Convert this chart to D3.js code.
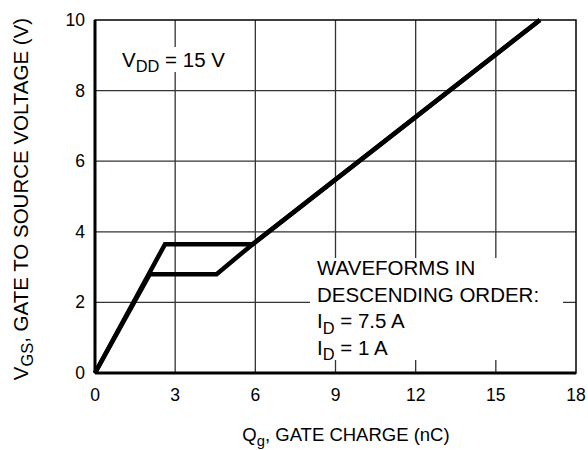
<!DOCTYPE html>
<html>
<head>
<meta charset="utf-8">
<script src="https://cdn.jsdelivr.net/npm/d3@7"></script>
<style>
  body { margin: 0; background: #fff; }
  text { font-family: "Liberation Sans", Arial, sans-serif; fill: #000; }
</style>
</head>
<body>
<svg id="svg0"></svg>
<script>
// gate charge curves (Qg nC, VGS V)
let curveHigh = [[0, 0], [2.62, 3.65], [5.9, 3.65], [16.65, 10]];   // ID = 7.5 A
let curveLow = [[0, 0], [2.05, 2.8], [4.55, 2.8], [5.9, 3.65], [16.65, 10]];  // ID = 1 A
let xTicks = [0, 3, 6, 9, 12, 15, 18];
let yTicks = [0, 2, 4, 6, 8, 10];
let legendLines = ['WAVEFORMS IN', 'DESCENDING ORDER:', 'I|D| = 7.5 A', 'I|D| = 1 A'];

let W = 588, H = 450;
let margin = {top: 20, right: 12, bottom: 77, left: 95};
let width = W - margin.left - margin.right;
let height = H - margin.top - margin.bottom;

let svg = d3.select('#svg0').attr('width', W).attr('height', H);
let g = svg.append('g').attr('transform', 'translate(' + margin.left + ', ' + margin.top + ')');

let xScale = d3.scaleLinear().domain([0, 18]).range([0, width]);
let yScale = d3.scaleLinear().domain([0, 10]).range([height, 0]);

// gridlines
g.append('g').selectAll('line').data(xTicks.slice(1, -1)).enter().append('line')
    .attr('x1', d=>xScale(d)).attr('x2', d=>xScale(d))
    .attr('y1', 0).attr('y2', height)
    .style('stroke', '#333').style('stroke-width', 1.3);
g.append('g').selectAll('line').data(yTicks.slice(1, -1)).enter().append('line')
    .attr('x1', 0).attr('x2', width)
    .attr('y1', d=>yScale(d)).attr('y2', d=>yScale(d))
    .style('stroke', '#333').style('stroke-width', 1.3);

// white boxes behind the notes
g.append('rect').attr('x', 24).attr('y', 27).attr('width', 112).attr('height', 25).style('fill', '#fff');
g.append('rect').attr('x', 215).attr('y', 238).attr('width', 253).attr('height', 102).style('fill', '#fff');

// frame
g.append('rect').attr('width', width).attr('height', height)
    .style('fill', 'none').style('stroke', '#000').style('stroke-width', 1.5);
g.append('line').attr('x1', 0).attr('x2', 0).attr('y1', 0).attr('y2', height)
    .style('stroke', '#000').style('stroke-width', 3);
g.append('line').attr('x1', 0).attr('x2', width).attr('y1', height).attr('y2', height)
    .style('stroke', '#000').style('stroke-width', 3);

// tick labels
g.selectAll('.xt').data(xTicks).enter().append('text')
    .attr('class', 'xt')
    .attr('x', d=>xScale(d)).attr('y', height + 28)
    .style('text-anchor', 'middle').style('font-size', '17.5px')
    .text(d=>d);
g.selectAll('.yt').data(yTicks).enter().append('text')
    .attr('class', 'yt')
    .attr('x', -10).attr('y', d=>yScale(d) + 6)
    .style('text-anchor', 'end').style('font-size', '17.5px')
    .text(d=>d);

// curves
let line = d3.line().x(d=>xScale(d[0])).y(d=>yScale(d[1]));
[curveLow, curveHigh].forEach(c=>{
    g.append('path').datum(c)
        .attr('d', line)
        .style('fill', 'none').style('stroke', '#000').style('stroke-width', 4.5)
        .style('stroke-linejoin', 'miter');
});

// helper for text with subscript, parts split by |
function subText(sel, str, size){
    let parts = str.split('|');
    parts.forEach((p, i)=>{
        if (!p) return;
        let t = sel.append('tspan').text(p);
        if (i % 2 == 1) {
            t.attr('dy', size * 0.25).style('font-size', (size * 0.8) + 'px');
        } else if (i > 0) {
            t.attr('dy', -size * 0.25);
        }
    });
}

// VDD note
subText(g.append('text').attr('x', 27).attr('y', 47).style('font-size', '20.5px'), 'V|DD| = 15 V', 20.5);

// legend note
legendLines.forEach((s, i)=>{
    subText(g.append('text').attr('x', 222).attr('y', 255 + i * 26.7).style('font-size', '20.5px'), s, 20.5);
});

// axis titles
subText(svg.append('text').attr('x', 346).attr('y', 441)
    .style('text-anchor', 'middle').style('font-size', '18.5px'), 'Q|g|, GATE CHARGE (nC)', 18.5);
subText(svg.append('text').attr('transform', 'translate(28, 199) rotate(-90)')
    .style('text-anchor', 'middle').style('font-size', '20.5px'), 'V|GS|, GATE TO SOURCE VOLTAGE (V)', 20.5);
</script>
</body>
</html>
